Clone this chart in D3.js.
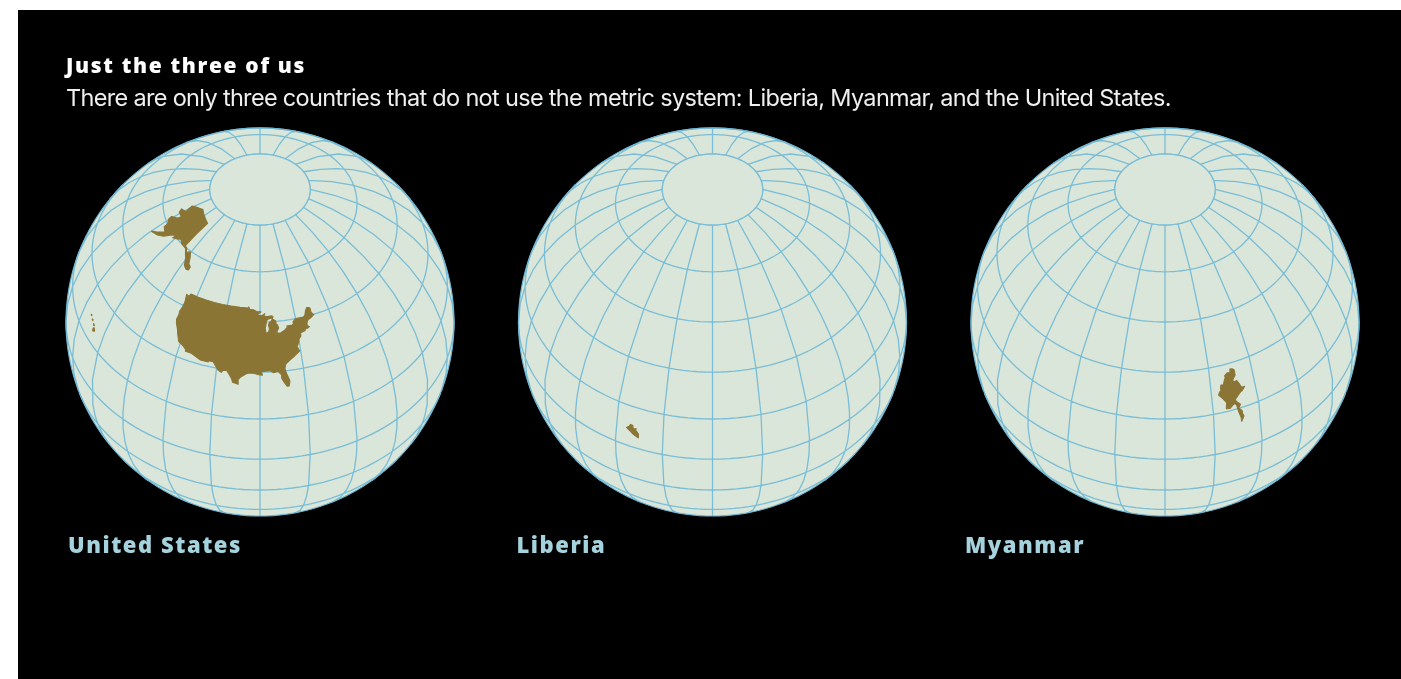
<!DOCTYPE html>
<html>
<head>
<meta charset="utf-8">
<script src="https://cdn.jsdelivr.net/npm/d3@7"></script>
<style>
html, body { margin: 0; padding: 0; background: #fff; overflow: hidden; }
svg { display: block; filter: blur(0.45px); }
</style>
</head>
<body>
<script>
var width = 1401, height = 679;

var title = "Just the three of us";
var subtitle = "There are only three countries that do not use the metric system: Liberia, Myanmar, and the United States.";

var countryNames = ["United States", "Liberia", "Myanmar"];
// globe centre longitude for each panel, all tilted to 45N
var centerLons = [-90, 15, 75];
var centerLat = 45;
var gratStep = 15;
var gratMaxLat = 75;

// outlines in lon/lat, clockwise
var lower48 = [[-124.7,48.4],[-123.2,48.15],[-122.8,49],[-119,49],[-115,49],[-111,49],[-107,49],[-103,49],[-99,49],[-95.2,49],
  [-95.15,49.4],[-94.6,48.7],[-93,48.6],[-91.5,48.1],[-89.6,48],[-90.8,47.3],[-92.1,46.7],[-90.8,46.9],[-89,46.9],[-87.9,47.45],
  [-88.4,46.9],[-87.4,46.5],[-85,46.7],[-84.4,46.5],[-84.7,46],[-85.5,46.05],[-86.6,45.8],[-87.6,45.1],[-88,44.55],[-87.3,45],
  [-87.5,44.3],[-87.9,43],[-87.6,41.8],[-87.2,41.65],[-86.5,42.1],[-86.2,43],[-86.5,44],[-86.2,44.7],[-85.5,45],[-84.8,45.75],
  [-83.4,45.1],[-83.3,44.3],[-83.9,43.7],[-82.9,44.05],[-82.45,43],[-83.1,42.2],[-83.4,41.7],[-82.5,41.4],[-81.7,41.5],[-80,42.2],
  [-78.9,42.9],[-79.05,43.27],[-76.8,43.3],[-76.2,43.6],[-76.3,44.2],[-75,45],[-73,45],[-71.5,45],[-70.8,45.4],[-70.3,46.2],[-70,46.7],
  [-69.2,47.45],[-68.3,47.35],[-67.8,47.07],[-67.8,45.7],[-67,44.9],[-68.5,44.3],[-70,43.8],[-70.7,43],[-70.8,42.3],[-70,41.8],
  [-70.6,41.6],[-71.5,41.4],[-73.5,41],[-72,41],[-74,40.6],[-74.1,39.7],[-75,38.9],[-75.5,39.4],[-75.1,38.4],[-75.9,37.1],
  [-76.4,38.9],[-76.3,37],[-75.5,35.3],[-76.6,34.7],[-77.9,33.9],[-79.2,33.2],[-81,32],[-81.4,30.7],[-81,29.2],[-80.05,26.8],
  [-80.4,25.2],[-81.1,25.2],[-81.8,26.2],[-82.7,27.8],[-82.7,28.9],[-83.7,29.9],[-84.3,30],[-85.3,29.7],[-86.5,30.4],[-88,30.3],
  [-89.5,30.2],[-89.2,29.1],[-90.5,29.2],[-91.8,29.6],[-93.8,29.7],[-94.8,29.3],[-96.5,28.3],[-97.3,27.4],[-97.2,25.95],[-99.1,26.4],
  [-99.5,27.5],[-100.6,28.9],[-101.4,29.8],[-102.7,29.7],[-103.2,29],[-104.5,29.6],[-106.5,31.75],[-108.2,31.75],[-108.2,31.33],
  [-111.07,31.33],[-114.8,32.5],[-117.1,32.53],[-117.3,33.1],[-118.4,33.75],[-120.6,34.55],[-121.9,36.6],[-122.5,37.7],[-123.8,39.3],
  [-124.4,40.4],[-124.2,42],[-124.5,42.9],[-124,44.7],[-123.95,46.2],[-124.7,48.4]];

var alaska = [[-166,68.9],[-163,69.8],[-156.5,71.3],[-152,70.8],[-146,70.2],[-141,69.65],[-141,65],[-141,60.3],[-139,60],[-137.5,58.9],
  [-135.5,59.8],[-133.4,58.4],[-131.8,56.6],[-130,56],[-130,55],[-131.5,54.8],[-133.5,55.5],[-135.5,57.5],[-137,58.3],[-139.5,59.7],
  [-144,60],[-146.5,60.8],[-148.5,60],[-151.5,59.2],[-150.8,60.6],[-153.5,59.5],[-156.5,57.2],[-160,55.8],[-163.5,54.8],[-164.8,54.6],
  [-162,56],[-158.5,58.2],[-162,58.7],[-162.5,60],[-165.5,61],[-166,62],[-162,63.5],[-161.5,64.7],[-166,64.6],[-168,65.6],[-163.5,66.5],[-166,68.9]];

var hawaiiBig = [[-156.05,19.75],[-155.6,20.2],[-155.1,19.85],[-154.8,19.5],[-155.65,18.95],[-155.95,19.2],[-156.05,19.75]];
var hawaiiMaui = [[-156.7,20.95],[-156.25,20.95],[-156,20.7],[-156.4,20.58],[-156.7,20.95]];
var hawaiiOahu = [[-158.25,21.55],[-157.95,21.7],[-157.65,21.3],[-158.1,21.3],[-158.25,21.55]];
var hawaiiKauai = [[-159.75,22.1],[-159.4,22.23],[-159.3,22],[-159.6,21.9],[-159.75,22.1]];

var liberia = [[-11.5,6.9],[-10.6,7.8],[-10.3,8.5],[-9.5,8.4],[-9.4,7.4],[-8.9,7.3],[-8.4,7.6],[-8.5,6.9],[-7.6,5.9],[-7.5,4.4],
  [-7.7,4.4],[-9.1,5.1],[-10.4,6.1],[-11.5,6.9]];

var myanmar = [[92.2,21],[92.7,22],[93.2,22.3],[93.1,23],[93.4,24],[94.2,23.9],[94.7,25.1],[95.2,26],[95.1,26.6],[96.2,27.3],[97.1,27.1],
  [97.3,28.2],[98.1,28.1],[98.7,27.5],[98.7,25.9],[97.7,24.8],[97.6,23.9],[98.9,24.1],[99.5,22.9],[100.1,21.5],[101.15,21.5],[100.1,20.4],
  [99.5,20.15],[98.9,19.7],[97.8,18.6],[97.4,18.4],[97.7,17.5],[98.9,16.2],[98.2,15.1],[99.2,13.8],[99.2,12.8],[99.6,11.9],[98.7,10.2],
  [98.6,11.8],[98,14],[97.6,16.5],[96.9,17],[95.4,15.8],[94.2,16],[94.5,18],[93.5,19.5],[92.2,21]];

var countryRings = [
  [lower48, alaska, hawaiiBig, hawaiiMaui, hawaiiOahu, hawaiiKauai],
  [liberia],
  [myanmar]
];

var svg = d3.select("body").append("svg")
  .attr("width", width)
  .attr("height", height);

svg.append("rect").attr("width", width).attr("height", height).attr("fill", "#fff");
svg.append("rect").attr("x", 18).attr("y", 10).attr("width", width - 18).attr("height", height - 10).attr("fill", "#000");

svg.append("text")
  .attr("x", 66).attr("y", 73)
  .attr("fill", "#fff")
  .style("font-family", "Open Sans")
  .style("font-weight", 800)
  .style("font-size", "21px")
  .style("letter-spacing", "1.65px")
  .text(title);

svg.append("text")
  .attr("x", 66).attr("y", 106)
  .attr("fill", "#efefef")
  .style("font-family", "Inter")
  .style("font-size", "23.5px")
  .style("letter-spacing", "-0.68px")
  .text(subtitle);

var globeX = d3.scalePoint().domain(countryNames).range([260, 1165]);
var labelX = d3.scalePoint().domain(countryNames).range([68, 965]);
var globeY = 322, globeR = 194;

var graticule = d3.geoGraticule()
  .extent([[-180, -gratMaxLat - 0.01], [180, gratMaxLat + 0.01]])
  .step([gratStep, gratStep]);

countryNames.forEach(function(name, i) {
  var projection = d3.geoOrthographic()
    .scale(globeR)
    .translate([globeX(name), globeY])
    .rotate([-centerLons[i], -centerLat])
    .clipAngle(90);
  var path = d3.geoPath(projection);

  var g = svg.append("g");

  g.append("path")
    .datum({type: "Sphere"})
    .attr("d", path)
    .attr("fill", "#d9e6d9");

  g.append("path")
    .datum(graticule())
    .attr("d", path)
    .attr("fill", "none")
    .attr("stroke", "#79bdd6")
    .attr("stroke-width", 1.3);

  // cap ring at the top of the grid
  g.append("path")
    .datum(d3.geoCircle().center([0, 90]).radius(90 - gratMaxLat)())
    .attr("d", path)
    .attr("fill", "#d9e6d9")
    .attr("stroke", "#79bdd6")
    .attr("stroke-width", 1.3);

  g.append("path")
    .datum({type: "Sphere"})
    .attr("d", path)
    .attr("fill", "none")
    .attr("stroke", "#6fb6d3")
    .attr("stroke-width", 1.2);

  g.append("path")
    .datum({type: "MultiPolygon", coordinates: countryRings[i].map(function(r) { return [r]; })})
    .attr("d", path)
    .attr("fill", "#8b7535")
    .attr("stroke", "#8b7535")
    .attr("stroke-width", 1.1)
    .attr("stroke-linejoin", "round");

  svg.append("text")
    .attr("x", labelX(name)).attr("y", 553)
    .attr("fill", "#a5d3dd")
    .style("font-family", "Open Sans")
    .style("font-weight", 800)
    .style("font-size", "22px")
    .style("letter-spacing", "1.55px")
    .text(name);
});
</script>
</body>
</html>
